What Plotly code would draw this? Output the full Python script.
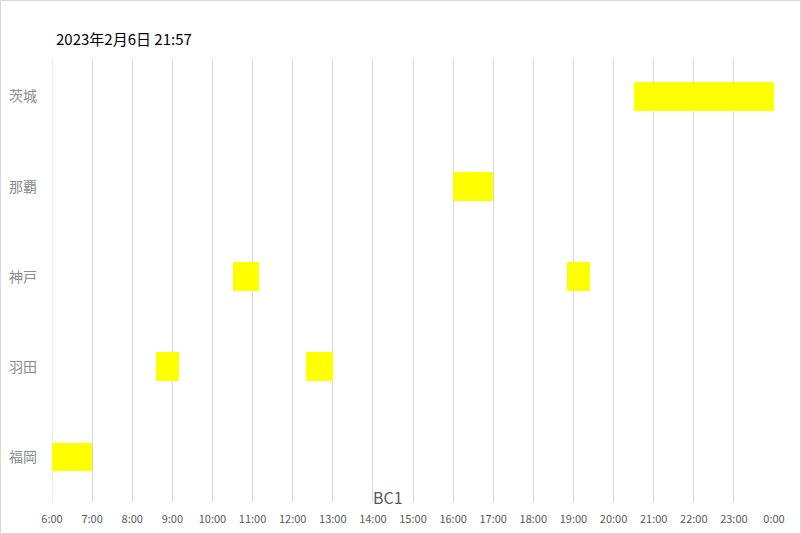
import plotly.graph_objects as go

# ---- data ----
categories = ["福岡", "羽田", "神戸", "那覇", "茨城"]
bar_category = ["福岡", "羽田", "羽田", "神戸", "神戸", "那覇", "茨城"]
bar_start = ["6:00", "8:35", "12:20", "10:30", "18:50", "16:00", "20:30"]
bar_end = ["7:00", "9:10", "13:00", "11:10", "19:25", "17:00", "24:00"]
tick_hours = list(range(6, 25))
tick_labels = [f"{h % 24}:00" for h in tick_hours]
title_text = "2023年2月6日 21:57"
axis_label = "BC1"


def to_hours(s):
    h, m = s.split(":")
    return int(h) + int(m) / 60.0


starts = [to_hours(s) for s in bar_start]
ends = [to_hours(s) for s in bar_end]
durations = [e - s for s, e in zip(starts, ends)]
ypos = [categories.index(c) for c in bar_category]

W, H = 801, 534
L, R, T, B = 52, 27, 59, 32
pw = W - L - R
ph = H - T - B

fig = go.Figure()
fig.add_trace(go.Bar(
    orientation="h",
    y=ypos,
    x=durations,
    base=starts,
    width=0.32,
    marker=dict(color="#FFFF00", line=dict(width=0)),
    hoverinfo="skip",
    showlegend=False,
))

font_cjk = "Noto Sans CJK JP"

fig.update_layout(
    width=W, height=H,
    margin=dict(l=L, r=R, t=T, b=B, pad=0, autoexpand=False),
    paper_bgcolor="white",
    plot_bgcolor="white",
    bargap=0,
    xaxis=dict(
        range=[6, 24],
        tickvals=tick_hours,
        ticktext=tick_labels,
        showgrid=True,
        gridcolor="#d9d9d9",
        gridwidth=1,
        zeroline=False,
        showline=False,
        ticks="",
        automargin=False,
        ticklabelstandoff=9,
        tickfont=dict(family=font_cjk, size=11, color="#595959"),
        fixedrange=True,
    ),
    yaxis=dict(
        range=[-0.5, 4.417],
        tickvals=list(range(len(categories))),
        ticktext=categories,
        showgrid=False,
        zeroline=False,
        showline=False,
        ticks="",
        automargin=False,
        ticklabelstandoff=14,
        tickfont=dict(family=font_cjk, size=14, color="#8c8c8c"),
        fixedrange=True,
    ),
    annotations=[
        dict(text=title_text, xref="paper", yref="paper",
             x=(54 - L) / pw, y=(H - B - 38) / ph, xanchor="left", yanchor="middle",
             showarrow=False, font=dict(family=font_cjk, size=15, color="#000000")),
        dict(text=axis_label, xref="paper", yref="paper",
             x=(388 - L) / pw, y=(H - B - 497) / ph, xanchor="center", yanchor="middle",
             showarrow=False, font=dict(family=font_cjk, size=16, color="#595959")),
    ],
    shapes=[
        dict(type="line", xref="x", yref="paper", x0=6, x1=6, y0=0, y1=1,
             line=dict(color="#d9d9d9", width=1), layer="below"),
        dict(type="rect", xref="paper", yref="paper",
             x0=(0.5 - L) / pw, x1=(W - 0.5 - L) / pw,
             y0=(H - B - (H - 0.5)) / ph, y1=(H - B - 0.5) / ph,
             line=dict(color="#d9d9d9", width=1), fillcolor="rgba(0,0,0,0)",
             layer="above"),
    ],
)

fig.write_html(
    "out.html",
    config={"displayModeBar": False},
    post_script="document.body.style.margin='0';document.body.style.overflow='hidden';",
)
